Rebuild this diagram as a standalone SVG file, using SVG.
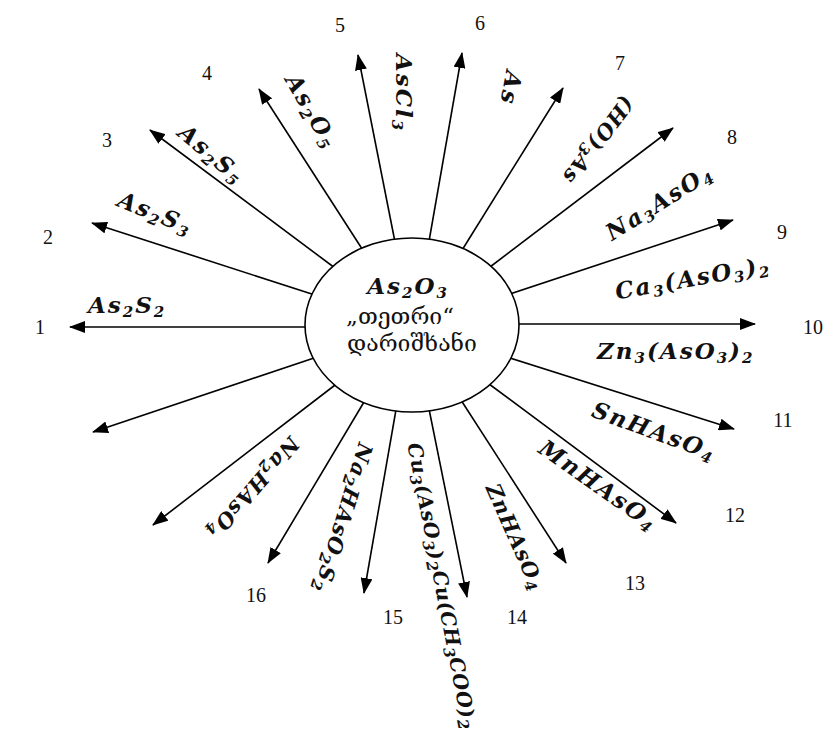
<svg xmlns="http://www.w3.org/2000/svg" width="826" height="731" viewBox="0 0 826 731">
<defs>
<marker id="ah" markerUnits="userSpaceOnUse" markerWidth="16" markerHeight="12" refX="15" refY="6" orient="auto">
<path d="M0,0 L16,6 L0,12 z" fill="#000"/>
</marker>
<style>
.f{font-family:"DejaVu Serif","Liberation Serif",serif;font-weight:bold;font-style:italic;font-size:23px;letter-spacing:2px;fill:#111}
.s{font-size:15px}
.n{font-family:"Liberation Serif","DejaVu Serif",serif;font-size:20px;fill:#111;text-anchor:middle}
.g{font-family:"DejaVu Serif","DejaVu Sans",serif;font-size:23px;fill:#111;text-anchor:middle}
.c line{stroke:#000;stroke-width:1.6;marker-end:url(#ah)}
</style>
</defs>
<rect width="826" height="731" fill="#fff"/>
<g id="connectors" class="c">
<line x1="313" y1="327" x2="70" y2="327"/>
<line x1="318" y1="296" x2="92" y2="223"/>
<line x1="339" y1="271" x2="150" y2="130"/>
<line x1="366" y1="255" x2="259" y2="89"/>
<line x1="396" y1="247" x2="358" y2="55"/>
<line x1="428" y1="247" x2="462" y2="53"/>
<line x1="459" y1="255" x2="563" y2="88"/>
<line x1="486" y1="270" x2="673" y2="128"/>
<line x1="507" y1="295" x2="733" y2="220"/>
<line x1="511" y1="324" x2="755" y2="324"/>
<line x1="507" y1="357" x2="734" y2="429"/>
<line x1="485" y1="381" x2="676" y2="523"/>
<line x1="459" y1="397" x2="566" y2="563"/>
<line x1="428" y1="404" x2="467" y2="597"/>
<line x1="397" y1="404" x2="364" y2="593"/>
<line x1="367" y1="397" x2="268" y2="563"/>
<line x1="339" y1="382" x2="153" y2="525"/>
<line x1="320" y1="356" x2="93" y2="432"/>
</g>
<g id="center">
<ellipse cx="412" cy="325" rx="107" ry="87" fill="#fff" stroke="#000" stroke-width="1.6"/>
<text class="f" x="408" y="294" text-anchor="middle">As<tspan class="s" dy="4">2</tspan><tspan dy="-4">O</tspan><tspan class="s" dy="4">3</tspan></text>
<text class="g" x="400" y="324">„თეთრი“</text>
<text class="g" x="412" y="351">დარიშხანი</text>
</g>
<g id="node1">
<text class="f" x="88" y="313">As<tspan class="s" dy="4">2</tspan><tspan dy="-4">S</tspan><tspan class="s" dy="4">2</tspan></text>
<text class="n" x="40" y="334">1</text>
</g>
<g id="node2">
<text class="f" transform="translate(155,214) rotate(22)" x="0" y="7" text-anchor="middle">As<tspan class="s" dy="4">2</tspan><tspan dy="-4">S</tspan><tspan class="s" dy="4">3</tspan></text>
<text class="n" x="48" y="244">2</text>
</g>
<g id="node3">
<text class="f" transform="translate(211,155) rotate(40)" x="0" y="7" text-anchor="middle">As<tspan class="s" dy="4">2</tspan><tspan dy="-4">S</tspan><tspan class="s" dy="4">5</tspan></text>
<text class="n" x="107" y="147">3</text>
</g>
<g id="node4">
<text class="f" transform="translate(311,112) rotate(60)" x="0" y="7" text-anchor="middle">As<tspan class="s" dy="4">2</tspan><tspan dy="-4">O</tspan><tspan class="s" dy="4">5</tspan></text>
<text class="n" x="207" y="80">4</text>
</g>
<g id="node5">
<text class="f" transform="translate(403,93) rotate(90)" x="0" y="7" text-anchor="middle">AsCl<tspan class="s" dy="4">3</tspan></text>
<text class="n" x="340" y="32">5</text>
</g>
<g id="node6">
<text class="f" transform="translate(510,88) rotate(100)" x="0" y="7" text-anchor="middle">As</text>
<text class="n" x="480" y="30">6</text>
</g>
<g id="node7">
<text class="f" transform="translate(598,140) rotate(127)" x="0" y="7" text-anchor="middle" style="font-size:21px;letter-spacing:1px">(HO)<tspan class="s" dy="4">3</tspan><tspan dy="-4">As</tspan></text>
<text class="n" x="620" y="70">7</text>
</g>
<g id="node8">
<text class="f" transform="translate(660,203) rotate(-32)" x="0" y="7" text-anchor="middle">Na<tspan class="s" dy="4">3</tspan><tspan dy="-4">AsO</tspan><tspan class="s" dy="4">4</tspan></text>
<text class="n" x="732" y="144">8</text>
</g>
<g id="node9">
<text class="f" transform="translate(693,279) rotate(-10)" x="0" y="7" text-anchor="middle">Ca<tspan class="s" dy="4">3</tspan><tspan dy="-4">(AsO</tspan><tspan class="s" dy="4">3</tspan><tspan dy="-4">)</tspan><tspan class="s" dy="4">2</tspan></text>
<text class="n" x="782" y="239">9</text>
</g>
<g id="node10">
<text class="f" x="597" y="359">Zn<tspan class="s" dy="4">3</tspan><tspan dy="-4">(AsO</tspan><tspan class="s" dy="4">3</tspan><tspan dy="-4">)</tspan><tspan class="s" dy="4">2</tspan></text>
<text class="n" x="803" y="334" style="text-anchor:start">10</text>
</g>
<g id="node11">
<text class="f" transform="translate(654,432) rotate(20)" x="0" y="7" text-anchor="middle">SnHAsO<tspan class="s" dy="4">4</tspan></text>
<text class="n" x="783" y="427">11</text>
</g>
<g id="node12">
<text class="f" transform="translate(598,486) rotate(35)" x="0" y="7" text-anchor="middle">MnHAsO<tspan class="s" dy="4">4</tspan></text>
<text class="n" x="735" y="522">12</text>
</g>
<g id="node13">
<text class="f" transform="translate(515,537) rotate(66)" x="0" y="7" text-anchor="middle" style="font-size:21px;letter-spacing:1px">ZnHAsO<tspan class="s" dy="4">4</tspan></text>
<text class="n" x="635" y="590">13</text>
</g>
<g id="node14">
<text class="f" transform="translate(442,586) rotate(79)" x="0" y="7" text-anchor="middle" style="font-size:20px;letter-spacing:0.5px">Cu<tspan class="s" dy="4">3</tspan><tspan dy="-4">(AsO</tspan><tspan class="s" dy="4">3</tspan><tspan dy="-4">)</tspan><tspan class="s" dy="4">2</tspan><tspan dy="-4">Cu(CH</tspan><tspan class="s" dy="4">3</tspan><tspan dy="-4">COO)</tspan><tspan class="s" dy="4">2</tspan></text>
<text class="n" x="517" y="624">14</text>
</g>
<g id="node15">
<text class="f" transform="translate(343,518) rotate(107)" x="0" y="7" text-anchor="middle" style="font-size:21px;letter-spacing:1px">Na<tspan class="s" dy="4">2</tspan><tspan dy="-4">HAsO</tspan><tspan class="s" dy="4">2</tspan><tspan dy="-4">S</tspan><tspan class="s" dy="4">2</tspan></text>
<text class="n" x="393" y="624">15</text>
</g>
<g id="node16">
<text class="f" transform="translate(253,488) rotate(131)" x="0" y="7" text-anchor="middle" style="font-size:21px;letter-spacing:1px">Na<tspan class="s" dy="4">2</tspan><tspan dy="-4">HAsO</tspan><tspan class="s" dy="4">4</tspan></text>
<text class="n" x="256" y="602">16</text>
</g>
</svg>
